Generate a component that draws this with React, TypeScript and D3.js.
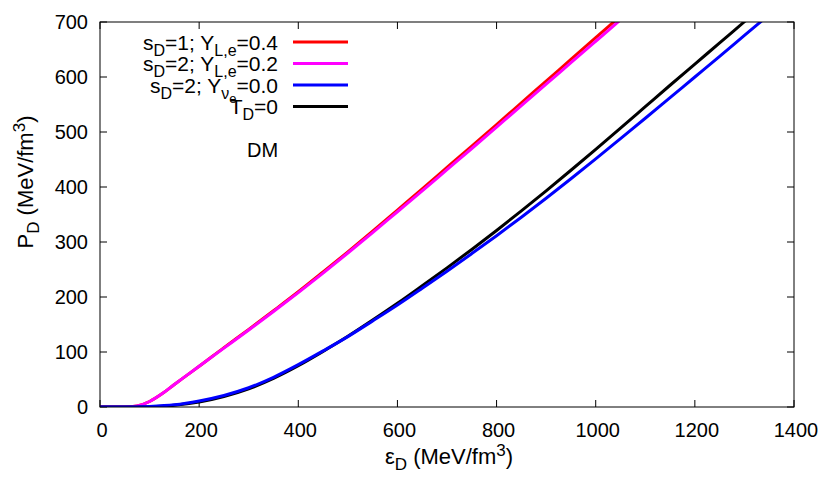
import React from "react";
import * as d3 from "d3";

const xTicks = [0, 200, 400, 600, 800, 1000, 1200, 1400];
const yTicks = [0, 100, 200, 300, 400, 500, 600, 700];

const epsRed = [0, 50, 75, 100, 125, 150, 175, 200, 250, 300, 350, 400, 450, 500, 550, 600, 650, 700, 750, 800, 850, 900, 950, 1000, 1050];
const pRed = [0, 0, 2, 10, 24, 41, 57.5, 74, 108, 141, 175, 209.5, 245.5, 282, 319.5, 358, 396.5, 435.5, 474.5, 513.5, 553, 592.5, 632, 671.5, 711];

const epsMagenta = [0, 50, 75, 100, 125, 150, 175, 200, 250, 300, 350, 400, 450, 500, 550, 600, 650, 700, 750, 800, 850, 900, 950, 1000, 1050];
const pMagenta = [0, 0, 2, 10, 24, 41, 57.5, 74, 107, 140, 173.5, 208, 243.5, 280, 317, 355, 393, 431.5, 470, 509, 548, 587, 626, 665, 704];

const epsBlue = [0, 50, 100, 150, 200, 250, 300, 350, 400, 450, 500, 550, 600, 650, 700, 750, 800, 850, 900, 950, 1000, 1050, 1100, 1150, 1200, 1250, 1300, 1350];
const pBlue = [0, 0, 1, 4, 11, 21, 35, 54, 77, 102, 128, 156.5, 185.5, 216, 247, 279, 311.5, 345, 379.5, 415, 451, 488, 525, 562.5, 600, 637.5, 675.5, 713.5];

const epsBlack = [0, 50, 100, 150, 200, 250, 300, 350, 400, 450, 500, 550, 600, 650, 700, 750, 800, 850, 900, 950, 1000, 1050, 1100, 1150, 1200, 1250, 1300, 1350];
const pBlack = [0, 0, 0.5, 3, 9, 19, 33, 52, 75, 101, 128.5, 158, 188.5, 220.5, 253, 286.5, 321, 356.5, 393, 430.5, 468.5, 507, 546, 585, 623.5, 662, 700.5, 739];

const W = 830;
const H = 498;
const left = 100;
const right = 794;
const top = 22;
const bottom = 407;

const FONT = "'Liberation Sans', Arial, Helvetica, sans-serif";

export default function App() {
  const x = d3.scaleLinear().domain([0, 1400]).range([left, right]);
  const y = d3.scaleLinear().domain([0, 700]).range([bottom, top]);
  const line = d3
    .line<[number, number]>()
    .x((d) => x(d[0]))
    .y((d) => y(d[1]))
    .curve(d3.curveMonotoneX);

  const series = [
    { eps: epsRed, p: pRed, color: "#ff0000" },
    { eps: epsMagenta, p: pMagenta, color: "#ff00ff" },
    { eps: epsBlack, p: pBlack, color: "#000000" },
    { eps: epsBlue, p: pBlue, color: "#0000ff" },
  ];

  const legendX = 278;
  const legendRows = [42, 63.5, 85, 106.5];
  const legendColors = ["#ff0000", "#ff00ff", "#0000ff", "#000000"];
  const tfs = 20;
  const lfs = 21;
  const sub = 16;
  const sd = 6;
  const afs = 22;
  const asub = 17;

  return (
    <svg width={W} height={H} style={{ position: "absolute", left: 0, top: 0 }} fontFamily={FONT}>
      <defs>
        <clipPath id="plot">
          <rect x={left} y={top} width={right - left} height={bottom - top} />
        </clipPath>
      </defs>
      <rect x={0} y={0} width={W} height={H} fill="#fff" />

      {/* ticks */}
      {xTicks.map((t) => (
        <g key={"xt" + t}>
          <line x1={x(t)} x2={x(t)} y1={bottom} y2={bottom - 7} stroke="#000" strokeWidth={1} />
          <line x1={x(t)} x2={x(t)} y1={top} y2={top + 7} stroke="#000" strokeWidth={1} />
          <text x={x(t) + 2} y={437} fontSize={tfs} textAnchor="middle" fill="#000">
            {t}
          </text>
        </g>
      ))}
      {yTicks.map((t) => (
        <g key={"yt" + t}>
          <line x1={left} x2={left + 7} y1={y(t)} y2={y(t)} stroke="#000" strokeWidth={1} />
          <line x1={right} x2={right - 7} y1={y(t)} y2={y(t)} stroke="#000" strokeWidth={1} />
          <text x={88} y={y(t) + 7} fontSize={tfs} textAnchor="end" fill="#000">
            {t}
          </text>
        </g>
      ))}

      {/* curves */}
      <g clipPath="url(#plot)">
        {series.map((s, i) => (
          <path
            key={i}
            d={line(s.eps.map((e, j) => [e, s.p[j]] as [number, number])) || ""}
            fill="none"
            stroke={s.color}
            strokeWidth={3}
            strokeLinejoin="round"
          />
        ))}
      </g>

      {/* frame */}
      <rect x={left} y={top} width={right - left} height={bottom - top} fill="none" stroke="#000" strokeWidth={1} />

      {/* legend */}
      <text x={legendX} y={legendRows[0] + 7.5} fontSize={lfs} textAnchor="end" fill="#000">
        s<tspan fontSize={sub} dy={sd}>D</tspan>
        <tspan dy={-sd}>=1; Y</tspan>
        <tspan fontSize={sub} dy={sd}>L,e</tspan>
        <tspan dy={-sd}>=0.4</tspan>
      </text>
      <text x={legendX} y={legendRows[1] + 7.5} fontSize={lfs} textAnchor="end" fill="#000">
        s<tspan fontSize={sub} dy={sd}>D</tspan>
        <tspan dy={-sd}>=2; Y</tspan>
        <tspan fontSize={sub} dy={sd}>L,e</tspan>
        <tspan dy={-sd}>=0.2</tspan>
      </text>
      <text x={legendX} y={legendRows[2] + 7.5} fontSize={lfs} textAnchor="end" fill="#000">
        s<tspan fontSize={sub} dy={sd}>D</tspan>
        <tspan dy={-sd}>=2; Y</tspan>
        <tspan fontSize={sub} dy={sd}>ν</tspan>
        <tspan fontSize={13} dy={4}>e</tspan>
        <tspan dy={-sd - 4}>=0.0</tspan>
      </text>
      <text x={legendX} y={legendRows[3] + 7.5} fontSize={lfs} textAnchor="end" fill="#000">
        T<tspan fontSize={sub} dy={sd}>D</tspan>
        <tspan dy={-sd}>=0</tspan>
      </text>
      {legendRows.map((r, i) => (
        <line key={"lg" + i} x1={293} x2={348} y1={r} y2={r} stroke={legendColors[i]} strokeWidth={3} />
      ))}

      <text x={247} y={157} fontSize={tfs} fill="#000">
        DM
      </text>

      {/* axis labels */}
      <text x={449} y={464} fontSize={afs} textAnchor="middle" fill="#000">
        ε<tspan fontSize={asub} dy={6}>D</tspan>
        <tspan dy={-6}> (MeV/fm</tspan>
        <tspan fontSize={asub} dy={-8}>3</tspan>
        <tspan dy={8}>)</tspan>
      </text>
      <text transform={`translate(33, 182) rotate(-90)`} fontSize={afs} textAnchor="middle" fill="#000">
        P<tspan fontSize={asub} dy={6}>D</tspan>
        <tspan dy={-6}> (MeV/fm</tspan>
        <tspan fontSize={asub} dy={-8}>3</tspan>
        <tspan dy={8}>)</tspan>
      </text>
    </svg>
  );
}
